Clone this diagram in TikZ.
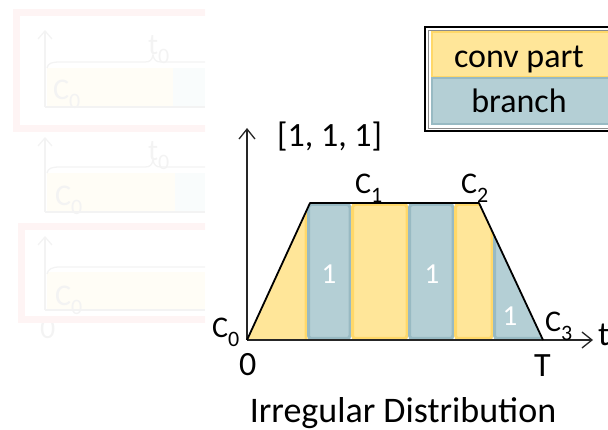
\documentclass[tikz,border=0pt]{standalone}
\usepackage{fontspec}
\setmainfont{Carlito}
\usetikzlibrary{arrows.meta}
\definecolor{yfill}{RGB}{255,230,153}
\definecolor{yedge}{RGB}{255,216,105}
\definecolor{bfill}{RGB}{180,207,213}
\definecolor{bedge}{RGB}{152,186,195}
\definecolor{fpink}{RGB}{254,244,244}
\definecolor{fgrey}{RGB}{243,243,243}
\definecolor{fyel}{RGB}{255,253,246}
\definecolor{fblue}{RGB}{249,252,252}
\newcommand\sbs[1]{\raisebox{-0.28em}{\fontsize{22}{22}\selectfont #1}}
\tikzset{
  lbl/.style={inner sep=0pt, anchor=base west, font=\fontsize{30}{34}\selectfont},
  biglbl/.style={inner sep=0pt, anchor=base west, font=\fontsize{34}{40}\selectfont},
  onelbl/.style={inner sep=0pt, text=white, font=\fontsize{29}{34}\selectfont},
  axis/.style={line width=1.3pt, draw=black!85, -{Straight Barb[length=10pt,width=16pt,line width=1.3pt]}},
  ystrip/.style={fill=yfill, draw=yedge, line width=3pt, rounded corners=3pt},
  bstrip/.style={fill=bfill, draw=bedge, line width=3pt, rounded corners=3pt},
  faintaxis/.style={line width=1.3pt, draw=fgrey, -{Straight Barb[length=8pt,width=14pt,line width=1.3pt]}},
  faintline/.style={line width=1.3pt, draw=fgrey},
  faintlbl/.style={inner sep=0pt, anchor=base west, text=fgrey, font=\fontsize{30}{34}\selectfont},
}
\begin{document}
\begin{tikzpicture}[x=1pt,y=-1pt]
\useasboundingbox (0,0) rectangle (608,430);
\clip (0,0) rectangle (608,430);

% ---------- faint panels on the left ----------
\begin{scope}
\clip (0,0) rectangle (205,430);
% panel 1
\fill[fyel] (47,68) rectangle (173,106);
\fill[fblue] (173,68) rectangle (205,106);
\draw[faintline] (45,107) -- (205,107);
\draw[faintaxis] (45,107) -- (45,30);
\draw[faintline] (47,68) .. controls (48,63) and (52,62) .. (60,62) -- (145,62)
  .. controls (150,62) and (152,60) .. (153,55) .. controls (154,60) and (156,62) .. (161,62) -- (205,62);
\node[faintlbl] (ft1) at (148,55) {t\sbs{0}};
\node[faintlbl] (fc1) at (53,100) {C\sbs{0}};
\draw[fpink, line width=7pt] (16.5,12.5) rectangle (215,128.5);
% panel 2
\fill[fyel] (47,173) rectangle (175,211);
\fill[fblue] (175,173) rectangle (205,211);
\draw[faintline] (45,212) -- (205,212);
\draw[faintaxis] (45,212) -- (45,137);
\draw[faintline] (47,173) .. controls (48,168) and (52,167) .. (60,167) -- (145,167)
  .. controls (150,167) and (152,165) .. (153,160) .. controls (154,165) and (156,167) .. (161,167) -- (205,167);
\node[faintlbl] (ft2) at (148,161) {t\sbs{0}};
\node[faintlbl] (fc2) at (55,206) {C\sbs{0}};
% panel 3
\node[faintlbl] (f0) at (40,339) {0};
\fill[fyel] (47,272) rectangle (205,309);
\draw[faintline] (45,310) -- (205,310);
\draw[faintaxis] (45,310) -- (45,236);
\draw[faintline] (47,274) .. controls (48,269) and (52,267) .. (60,267) -- (205,267);
\node[faintlbl] (fc3) at (55,306) {C\sbs{0}};
\draw[fpink, line width=7pt] (21.5,226.5) rectangle (215,319.5);
\end{scope}

% ---------- legend ----------
\draw[line width=1.2pt] (425,27) rectangle (620,131);
\draw[black!45, line width=0.6pt] (428,30) rectangle (617,128);
\draw[fill=yfill, draw=yedge, line width=2pt] (431.5,32.5) rectangle (615,77.5);
\draw[fill=bfill, draw=bedge, line width=2pt] (431.5,78.5) rectangle (615,124.5);
\node[biglbl, anchor=base] (conv) at (519,68) {conv part};
\node[biglbl, anchor=base] (branch) at (519,113) {branch};

% ---------- main plot ----------
\coordinate (O) at (247,340);
\coordinate (TL) at (310,203);
\coordinate (TR) at (479,203);
\coordinate (BR) at (543,340);
\coordinate (ytop) at (247,128);
\coordinate (xend) at (593,340);

\begin{scope}
\clip (O) -- (TL) -- (TR) -- (BR) -- cycle;
\draw[ystrip] (240,196) rectangle (306,346);
\draw[bstrip] (308.5,204.5) rectangle (350,338.5);
\draw[ystrip] (352.5,204.5) rectangle (407,338.5);
\draw[bstrip] (409.5,204.5) rectangle (453,338.5);
\draw[ystrip] (455.5,204.5) rectangle (492,338.5);
\draw[bstrip] (494.5,200) rectangle (560,338.5);
\end{scope}

\draw[axis] (O) -- (xend);
\draw[axis] (O) -- (ytop);
\draw[line width=1.8pt, line join=round] (O) -- (TL) -- (TR) -- (BR);

\node[onelbl] (one1) at (329,274) {1};
\node[onelbl] (one2) at (432,274) {1};
\node[onelbl] (one3) at (510,316) {1};

\node[biglbl] (vec) at (277,147) {[1, 1, 1]};
\node[lbl] (c0) at (212,338) {C\sbs{0}};
\node[lbl] (c1) at (355,194) {C\sbs{1}};
\node[lbl] (c2) at (461,194) {C\sbs{2}};
\node[lbl] (c3) at (545,332) {C\sbs{3}};
\node[biglbl] (zero) at (239,376) {0};
\node[biglbl] (T) at (534,377) {T};
\node[biglbl] (t) at (598,346) {t};
\node[inner sep=0pt, anchor=base, font=\fontsize{36}{40}\selectfont] (title) at (403,422) {Irregular Distribution};
\end{tikzpicture}
\end{document}
